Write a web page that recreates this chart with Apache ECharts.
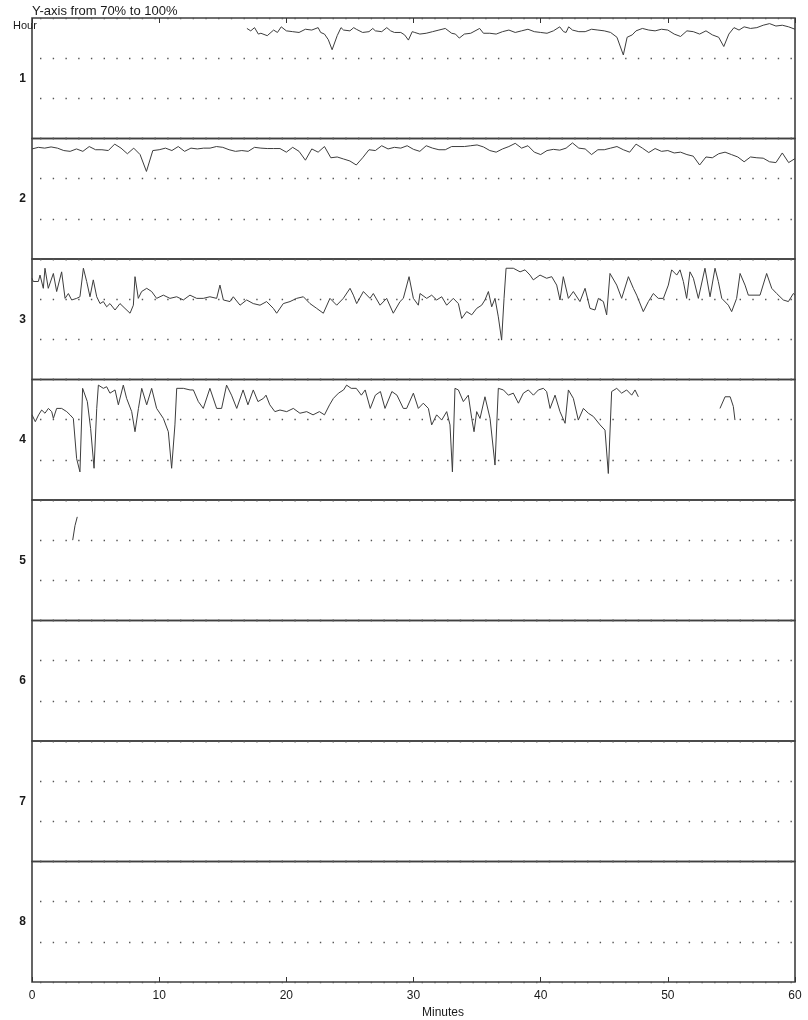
<!DOCTYPE html>
<html>
<head>
<meta charset="utf-8">
<title>Hourly trace, 70% to 100%</title>
<script src="https://cdn.jsdelivr.net/npm/echarts@6/dist/echarts.min.js"></script>
<style>
  html, body { margin: 0; background: #fff; }
  #chart { width: 808px; height: 1020px; }
</style>
</head>
<body>
<div id="chart"></div>
<script>
// hour labels shown at the left of each strip
var hours = ["1", "2", "3", "4", "5", "6", "7", "8"];
// minutes axis and the y range of every strip (%)
var minuteRange = [0, 60, 10];
var percentRange = [70, 100, 10];

// [minute, percent]
var hour1 = [[16.9,97.4],[17.2,96.8],[17.5,97.6],[17.8,96.0],[18,96.2],[18.5,95.6],[19,97.0],[19.3,96.4],[19.6,97.8],[20,96.8],[20.5,96.6],[21,96.4],[21.5,97.2],[22,97.0],[22.5,97.6],[22.7,96.4],[23,96.0],[23.3,94.6],[23.6,92.1],[24,95.6],[24.3,97.6],[24.5,97.0],[25,96.8],[25.3,97.6],[25.5,97.2],[26,96.4],[26.5,96.6],[26.8,97.4],[27,96.8],[27.5,96.6],[27.9,97.6],[28.2,96.8],[28.5,96.4],[29,96.4],[29.3,95.8],[29.6,94.5],[29.9,96.6],[30.1,96.4],[30.5,96.0],[31,96.2],[31.5,96.6],[32,97.0],[32.5,97.4],[33,96.2],[33.3,96.0],[33.6,95.0],[34,96.0],[34.5,96.2],[35.2,97.4],[35.5,96.2],[36,96.2],[36.5,96.0],[37,96.6],[37.5,97.0],[38,96.4],[38.5,96.8],[39,97.2],[39.5,96.6],[40,96.4],[40.5,96.2],[41,96.8],[41.5,97.8],[41.8,96.6],[42,96.4],[42.2,97.8],[42.5,97.0],[43,96.6],[43.5,96.6],[44,97.2],[44.5,97.0],[45,96.8],[45.5,96.4],[46,95.2],[46.5,90.8],[46.8,95.2],[47.2,95.8],[47.5,96.8],[48,97.4],[48.5,97.0],[49,96.8],[49.5,97.2],[50,97.0],[50.5,96.0],[51,95.4],[51.5,96.8],[52,96.6],[52.5,96.0],[53,96.8],[53.5,95.8],[54,95.2],[54.4,92.9],[54.8,96.0],[55.2,97.6],[55.6,97.0],[56,97.8],[56.5,97.4],[57,97.6],[57.5,98.2],[58,98.6],[58.5,98.0],[59,98.2],[59.5,97.8],[60,97.2]];

var hour2 = [[0,97.4],[0.5,97.8],[1,97.6],[1.5,97.9],[2,97.6],[2.5,97.0],[3,96.8],[3.5,97.4],[4,96.8],[4.5,98.0],[5,97.2],[5.5,97.2],[6,97.0],[6.5,98.6],[7,97.6],[7.5,96.2],[8,97.6],[8.5,96.0],[9,91.8],[9.5,97.0],[10,97.2],[10.5,97.6],[11,97.0],[11.5,98.0],[12,96.8],[12.5,97.6],[13,97.4],[13.5,97.6],[14,97.6],[14.5,98.0],[15,97.8],[15.5,97.2],[16,96.8],[16.5,97.0],[17,96.8],[17.5,97.8],[18,97.6],[18.5,97.5],[19,97.5],[19.5,97.5],[20,96.6],[20.5,97.8],[21,96.8],[21.5,94.6],[22,97.4],[22.5,96.6],[23,98.0],[23.5,95.2],[24,95.4],[24.5,94.9],[25,94.4],[25.5,93.4],[26,95.2],[26.5,97.2],[27,97.0],[27.5,98.2],[28,97.4],[28.5,97.8],[29,97.6],[29.5,98.2],[30,97.3],[30.5,96.8],[31,98.2],[31.5,97.6],[32,97.2],[32.5,97.2],[33,98.0],[33.5,98.0],[34,98.0],[34.5,98.2],[35,98.4],[35.5,97.9],[36,97.0],[36.5,96.6],[37,97.4],[37.5,98.0],[38,98.8],[38.5,97.6],[39,98.2],[39.5,96.6],[40,96.0],[40.5,97.0],[41,97.3],[41.5,97.1],[42,97.6],[42.5,98.9],[43,97.6],[43.5,97.4],[44,96.0],[44.5,97.2],[45,97.2],[45.5,97.6],[46,98.0],[46.5,97.2],[47,96.6],[47.5,98.6],[48,97.6],[48.5,96.5],[49,97.5],[49.5,96.8],[50,97.0],[50.5,96.4],[51,96.6],[51.5,96.0],[52,95.6],[52.5,93.4],[53,95.4],[53.5,95.2],[54,96.2],[54.5,96.6],[55,96.0],[55.5,95.4],[56,94.2],[56.5,95.4],[57,95.2],[57.5,95.1],[58,94.2],[58.5,94.0],[59,96.4],[59.5,94.0],[60,95.0]];

var hour3 = [[0,95.2],[0.1,94.4],[0.5,94.4],[0.63,96.0],[0.89,92.7],[1.02,97.7],[1.28,92.7],[1.68,96.4],[1.94,91.9],[2.33,96.8],[2.6,90.2],[2.86,91.4],[3.12,89.8],[3.51,90.2],[3.77,90.6],[4.04,97.7],[4.3,94.4],[4.56,90.6],[4.82,94.8],[5.09,90.6],[5.35,88.9],[5.61,89.4],[5.87,88.1],[6.13,88.9],[6.53,87.3],[6.92,88.9],[7.31,87.7],[7.71,86.5],[7.97,88.5],[8.1,95.6],[8.36,90.2],[8.62,91.9],[9.02,92.7],[9.41,91.9],[9.8,90.2],[10.33,91.0],[10.85,90.2],[11.38,90.6],[11.9,89.8],[12.42,91.0],[12.95,90.2],[13.47,90.2],[13.99,90.6],[14.52,90.2],[14.78,93.5],[15.05,89.8],[15.57,89.4],[15.83,90.6],[16.36,88.5],[16.88,89.8],[17.4,88.9],[17.93,88.5],[18.45,89.4],[18.98,87.7],[19.24,86.5],[19.76,88.9],[20.29,89.4],[20.81,90.2],[21.34,90.6],[21.86,88.9],[22.39,87.7],[22.91,86.5],[23.43,90.2],[23.96,88.5],[24.48,90.2],[25.01,92.7],[25.27,91.0],[25.53,88.9],[26.06,91.9],[26.58,90.2],[26.84,91.4],[27.37,88.5],[27.89,90.2],[28.41,86.5],[28.94,89.4],[29.2,90.2],[29.65,95.6],[29.99,90.2],[30.38,88.5],[30.51,91.4],[31.04,90.2],[31.43,91.0],[31.82,89.8],[32.22,90.6],[32.61,88.5],[33.13,90.2],[33.53,88.9],[33.79,85.2],[34.18,86.9],[34.58,86.1],[34.97,87.7],[35.36,88.5],[35.62,89.8],[35.89,91.9],[36.15,88.1],[36.41,90.2],[36.67,85.6],[36.93,79.8],[37.12,90.2],[37.28,97.7],[37.85,97.7],[38.38,96.8],[38.77,97.3],[39.16,96.0],[39.42,94.8],[39.95,96.0],[40.47,95.2],[40.87,95.6],[41.26,93.5],[41.52,89.8],[41.78,95.6],[42.18,90.2],[42.57,91.9],[43.09,89.4],[43.49,92.7],[43.88,87.7],[44.27,87.3],[44.54,90.2],[44.93,89.4],[45.19,86.1],[45.45,96.4],[45.98,93.5],[46.37,90.2],[46.9,95.6],[47.29,92.7],[47.55,91.0],[48.07,86.9],[48.47,89.4],[48.86,91.4],[49.25,90.2],[49.65,90.2],[50.04,93.5],[50.3,97.3],[50.7,96.0],[50.96,97.3],[51.22,94.4],[51.48,90.2],[51.74,96.8],[52.01,95.2],[52.4,90.2],[52.92,97.7],[53.32,90.6],[53.71,97.7],[53.97,94.4],[54.24,90.2],[54.76,88.5],[55.02,86.9],[55.41,90.2],[55.68,96.4],[56.07,93.5],[56.33,91.0],[57.25,91.0],[57.77,96.4],[58.17,92.7],[58.56,91.4],[59.08,89.8],[59.48,89.4],[59.87,91.4],[60,91.0]];

var hour4 = [[0,91.2],[0.26,89.5],[0.52,91.2],[0.76,92.4],[1.02,91.6],[1.29,92.8],[1.55,92.0],[1.68,90.3],[1.94,92.8],[2.33,92.8],[2.73,92.0],[2.99,91.2],[3.25,90.3],[3.51,80.3],[3.77,77.0],[3.98,97.8],[4.35,94.5],[4.61,87.8],[4.88,77.9],[5.09,92.8],[5.22,98.6],[5.61,97.8],[5.87,98.2],[6.13,96.6],[6.53,97.4],[6.79,93.7],[7.18,98.6],[7.44,95.3],[7.84,92.0],[8.1,87.0],[8.37,92.8],[8.63,97.8],[9.02,93.7],[9.41,97.8],[9.8,92.8],[10.33,90.3],[10.72,87.0],[10.98,77.9],[11.24,88.7],[11.38,97.8],[11.9,97.8],[12.43,97.4],[12.69,97.4],[13.08,94.5],[13.47,92.8],[13.99,97.8],[14.52,92.8],[14.91,92.8],[15.3,98.6],[15.69,96.1],[16.1,92.8],[16.6,97.4],[16.98,93.7],[17.4,97.4],[17.77,94.5],[18.2,95.3],[18.4,96.1],[18.7,93.7],[19.1,92.0],[19.5,92.4],[20.03,92.0],[20.55,92.8],[21.07,91.6],[21.6,92.0],[22.1,91.2],[22.6,92.0],[23,91.2],[23.4,93.7],[23.7,95.3],[24.1,96.6],[24.5,97.4],[24.74,98.6],[25.1,97.8],[25.5,97.8],[25.9,96.1],[26.2,97.4],[26.6,92.8],[27,96.1],[27.4,97.0],[27.76,92.8],[28.3,97.0],[28.7,96.1],[29.2,92.8],[29.46,92.8],[29.99,96.6],[30.38,92.8],[30.77,94.1],[31.17,92.8],[31.43,88.7],[31.82,91.2],[32.22,89.9],[32.61,92.0],[32.87,88.7],[33.06,77.0],[33.26,97.8],[33.53,97.4],[33.92,94.5],[34.31,96.1],[34.58,90.3],[34.76,87.0],[34.97,92.0],[35.23,90.3],[35.62,95.7],[36.02,90.3],[36.41,78.7],[36.67,97.8],[37.07,97.4],[37.46,96.1],[37.85,96.6],[38.25,94.1],[38.64,96.6],[39.03,97.4],[39.43,96.1],[39.82,97.4],[40.21,97.8],[40.47,97.0],[40.74,92.8],[41.13,96.1],[41.52,92.0],[41.92,89.1],[42.18,97.4],[42.57,95.3],[42.96,89.9],[43.36,92.8],[43.75,91.6],[44.14,90.8],[44.67,88.7],[45.06,87.4],[45.32,76.6],[45.58,97.0],[45.98,97.8],[46.37,96.6],[46.76,97.4],[47.16,96.1],[47.42,97.4],[47.68,95.7],[50,"-"],[54.1,92.8],[54.5,95.7],[54.9,95.7],[55.15,93.3],[55.28,89.9]];

var hour5 = [[3.2,90.0],[3.38,93.6],[3.56,95.8]];

var traces = [hour1, hour2, hour3, hour4, hour5, [], [], []];

var FONT = '"Liberation Sans", Arial, sans-serif';
var chart = echarts.init(document.getElementById("chart"));

var grids = [], xAxes = [], yAxes = [], series = [];
hours.forEach(function (h, i) {
  grids.push({
    left: 32,
    right: 13,
    top: 18 + i * 120.5,
    height: 120.5,
    show: true,
    borderColor: "#404040",
    borderWidth: 1.6
  });
  xAxes.push({
    gridIndex: i,
    type: "value",
    min: minuteRange[0],
    max: minuteRange[1],
    interval: minuteRange[2],
    show: i === 0 || i === 7,
    position: i === 0 ? "top" : "bottom",
    axisLine: { show: false },
    axisTick: { show: true, inside: true, length: 5, lineStyle: { color: "#333" } },
    axisLabel: {
      show: i === 7,
      margin: 8,
      fontSize: 12,
      fontFamily: FONT,
      color: "#1a1a1a"
    },
    splitLine: { show: false }
  });
  yAxes.push({
    gridIndex: i,
    type: "value",
    min: percentRange[0],
    max: percentRange[1],
    interval: percentRange[2],
    name: h,
    nameLocation: "middle",
    nameRotate: 0,
    nameGap: 6,
    nameTextStyle: { fontSize: 12, fontWeight: "bold", fontFamily: FONT, color: "#1a1a1a" },
    axisLine: { show: false },
    axisTick: { show: false },
    axisLabel: { show: false },
    splitLine: {
      show: true,
      lineStyle: { color: "#555", width: 1.4, type: [1.4, 11.32], dashOffset: 4.72 }
    }
  });
  series.push({
    type: "line",
    xAxisIndex: i,
    yAxisIndex: i,
    data: traces[i],
    symbol: "none",
    connectNulls: false,
    silent: true,
    lineStyle: { color: "#3d3d3d", width: 1 }
  });
});

chart.setOption({
  animation: false,
  backgroundColor: "#fff",
  grid: grids,
  xAxis: xAxes,
  yAxis: yAxes,
  series: series,
  graphic: [
    {
      type: "text",
      left: 32,
      top: 5,
      style: { text: "Y-axis from 70% to 100%", font: "13px " + FONT, fill: "#1a1a1a" }
    },
    {
      type: "text",
      left: 13,
      top: 20,
      style: { text: "Hour", font: "11px " + FONT, fill: "#1a1a1a" }
    },
    {
      type: "text",
      x: 443,
      y: 1013,
      style: { text: "Minutes", font: "12px " + FONT, fill: "#1a1a1a", align: "center", verticalAlign: "middle" }
    }
  ]
});

window.onresize = function () {
  chart.resize();
};
</script>
</body>
</html>
